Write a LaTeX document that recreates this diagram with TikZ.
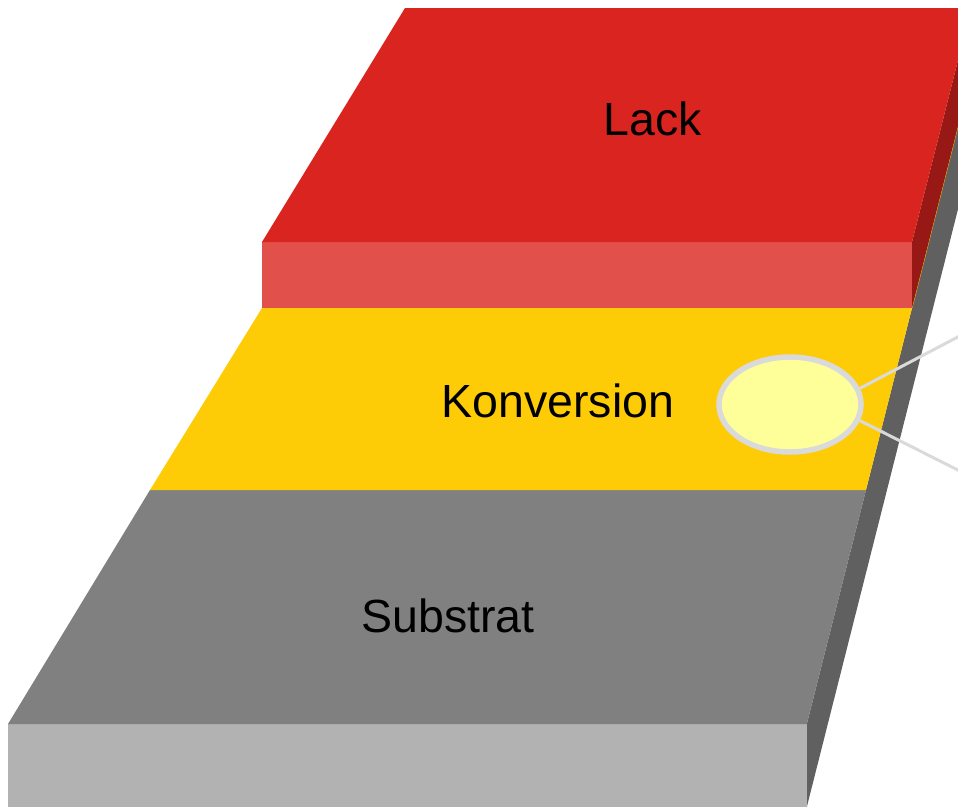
\documentclass[tikz,border=0pt]{standalone}
\usepackage{fontspec}
\setmainfont{Liberation Sans}
\usepackage{xcolor}
\usepackage{tikz}
\usetikzlibrary{shapes.geometric}

\definecolor{lackTop}{RGB}{218,36,31}
\definecolor{lackFront}{RGB}{226,80,76}
\definecolor{lackSide}{RGB}{152,24,21}
\definecolor{konvTop}{RGB}{254,204,6}
\definecolor{subTop}{RGB}{128,128,128}
\definecolor{subFront}{RGB}{178,178,178}
\definecolor{subSide}{RGB}{96,96,96}
\definecolor{spotFill}{RGB}{255,255,153}
\definecolor{spotLine}{RGB}{218,218,218}

\begin{document}
\begin{tikzpicture}[
  x=1pt,y=-1pt,
  layer text/.style={anchor=base,font=\fontsize{46.5}{56}\selectfont},
  lack top/.style={fill=lackTop},
  lack front/.style={fill=lackFront},
  lack side/.style={fill=lackSide},
  konv top/.style={fill=konvTop},
  sub top/.style={fill=subTop},
  sub front/.style={fill=subFront},
  sub side/.style={fill=subSide},
  spot/.style={ellipse,draw=spotLine,line width=5.5pt,fill=spotFill,
    minimum width=142pt,minimum height=95pt,inner sep=0pt},
  lead/.style={draw=spotLine,line width=3pt}]
  % s-substrat k-konversion l-lack
  \useasboundingbox (0,0) rectangle (958,807);
  \clip (0,0) rectangle (958,807);
  \fill[white] (0,0) rectangle (958,807);
  % substrat
  \fill[sub side]  (806.8,724) -- (806.8,807) -- (985.6,100) -- (964.6,100) -- cycle;
  \fill[sub front] (8,724) rectangle (806.8,807);
  \fill[sub top]   (150,490) -- (866,490) -- (806.8,724) -- (8,724) -- cycle;
  % konversion
  \fill[konv top]  (262,308) -- (912,308) -- (866,490) -- (150,490) -- cycle;
  \draw[konvTop,line width=0.8pt] (912,308) -- (964.6,100);
  % lack
  \fill[lack side]  (912,242) -- (912,308) -- (971.2,74) -- (971.2,8) -- cycle;
  \fill[lack front] (262,242) rectangle (912,308);
  \fill[lack top]   (405,8) -- (971.2,8) -- (912,242) -- (262,242) -- cycle;
  \node[layer text] (lack) at (653,135) {Lack};
  \node[layer text] (konv) at (558,417) {Konversion};
  \node[layer text] (sub)  at (448,632) {Substrat};
  \node[spot] (fleck) at (790,404.5) {};
  \coordinate (r1) at (965,333.2);
  \coordinate (r2) at (965,473.6);
  \draw[lead] (fleck.13) -- (r1);
  \draw[lead] (fleck.-13) -- (r2);
\end{tikzpicture}
\end{document}
